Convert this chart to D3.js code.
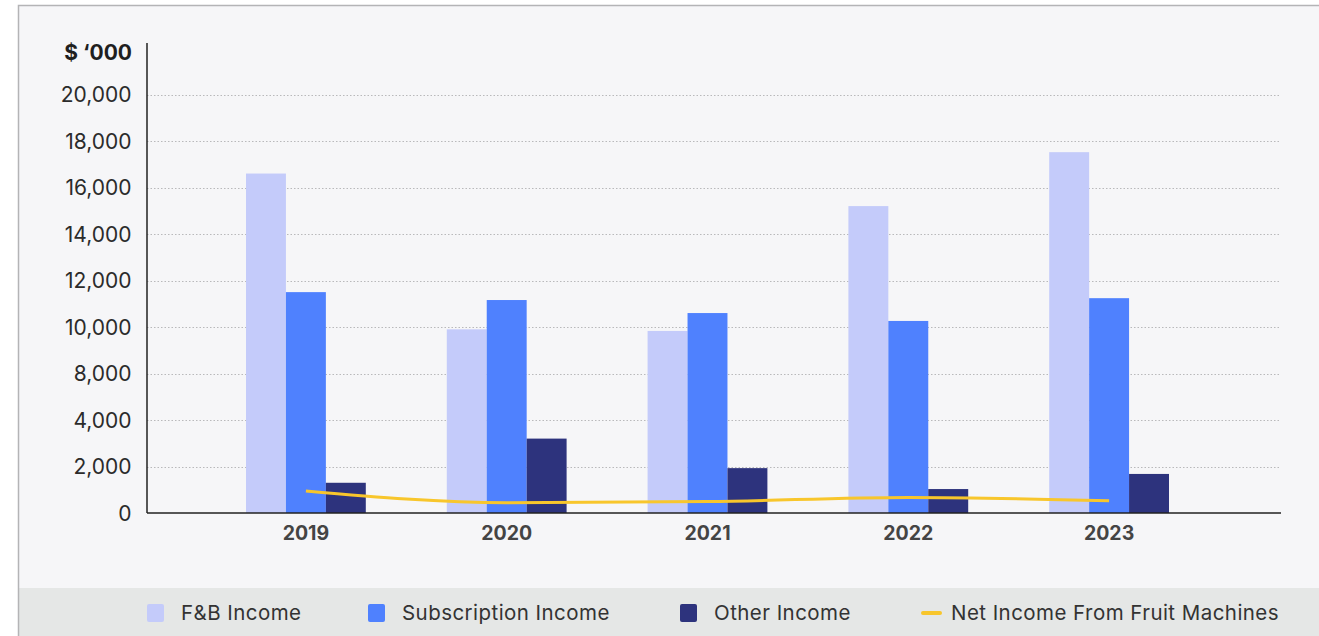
<!DOCTYPE html>
<html>
<head>
<meta charset="utf-8">
<script src="https://cdn.jsdelivr.net/npm/d3@7"></script>
<style>
  html, body { margin: 0; padding: 0; background: #fff; }
  svg { display: block; font-family: Inter, 'Noto Sans', sans-serif; }
</style>
</head>
<body>
<svg id="chart" width="1319" height="636"></svg>
<script>
// data
const years = ['2019', '2020', '2021', '2022', '2023']
const series = ['F&B Income', 'Subscription Income', 'Other Income']
const fbIncome = [16600, 9900, 9830, 15200, 17520]
const subscriptionIncome = [11500, 11160, 10600, 10260, 11240]
const otherIncome = [1300, 3200, 1930, 1030, 1680]
const fruitMachines = [950, 440, 490, 670, 530]
const tickValues = [0, 2000, 4000, 8000, 10000, 12000, 14000, 16000, 18000, 20000]
const lineName = 'Net Income From Fruit Machines'

const colors = ['#c4cbfa', '#4f81fe', '#2d337d']
const lineColor = '#f8c62c'

const svg = d3.select('#chart')
const W = 1319
const H = 636

// panel
svg.append('rect').attr('x', 18).attr('y', 5).attr('width', W - 18).attr('height', H - 5)
  .attr('fill', '#f6f6f8')
svg.append('rect').attr('x', 18).attr('y', 588).attr('width', W - 18).attr('height', H - 588)
  .attr('fill', '#e5e7e6')
svg.append('path').attr('d', `M18.5,${H}V5.5H${W}`)
  .attr('fill', 'none').attr('stroke', '#b4b4b6').attr('stroke-width', 1.5)

const left = 147
const right = 1281
const y0 = 513
const yTop = 94.5

// y axis: labels as shown, evenly spaced
const yScale = d3.scaleLinear()
  .domain(tickValues)
  .range(tickValues.map((d, i) => y0 - i * (y0 - yTop) / (tickValues.length - 1)))

const xScale = d3.scaleBand().domain(years).range([205.5, 1209.5]).paddingInner(0)
const inner = d3.scaleBand().domain(series).range([40.5, xScale.bandwidth() - 40.5])

// grid
svg.append('g').selectAll('line')
  .data(tickValues.filter(d => d > 0))
  .join('line')
  .attr('x1', left).attr('x2', right)
  .attr('y1', d => Math.round(yScale(d)) + 0.5).attr('y2', d => Math.round(yScale(d)) + 0.5)
  .attr('stroke', '#b9b9bb').attr('stroke-width', 1).attr('stroke-dasharray', '1.5,2')

// tick labels
svg.append('g').selectAll('text')
  .data(tickValues)
  .join('text')
  .attr('x', 131.5).attr('y', d => yScale(d))
  .attr('dy', '0.36em')
  .attr('text-anchor', 'end')
  .attr('font-size', 21)
  .attr('fill', '#2b2b2b')
  .text(d => d3.format(',')(d))

svg.append('text')
  .attr('x', 132).attr('y', 60)
  .attr('text-anchor', 'end')
  .attr('font-size', 21).attr('font-weight', 700)
  .attr('fill', '#1f1f1f')
  .text('$ \u2018000')

// bars
const values = [fbIncome, subscriptionIncome, otherIncome]
const g = svg.append('g')
years.forEach((yr, i) => {
  series.forEach((s, j) => {
    const v = values[j][i]
    g.append('rect')
      .attr('x', xScale(yr) + inner(s))
      .attr('y', yScale(v))
      .attr('width', inner.bandwidth())
      .attr('height', y0 - yScale(v))
      .attr('fill', colors[j])
  })
})

// line
const line = d3.line()
  .x((d, i) => xScale(years[i]) + xScale.bandwidth() / 2)
  .y(d => yScale(d))
  .curve(d3.curveMonotoneX)
svg.append('path')
  .attr('d', line(fruitMachines))
  .attr('fill', 'none')
  .attr('stroke', lineColor)
  .attr('stroke-width', 3)

// axes lines
svg.append('line').attr('x1', left).attr('x2', left).attr('y1', 43).attr('y2', y0)
  .attr('stroke', '#222').attr('stroke-width', 1.5)
svg.append('line').attr('x1', left).attr('x2', right).attr('y1', y0).attr('y2', y0)
  .attr('stroke', '#222').attr('stroke-width', 1.5)

// x labels
svg.append('g').selectAll('text')
  .data(years)
  .join('text')
  .attr('x', d => xScale(d) + xScale.bandwidth() / 2)
  .attr('y', 540)
  .attr('text-anchor', 'middle')
  .attr('font-size', 19.5).attr('font-weight', 700)
  .attr('fill', '#444')
  .text(d => d)

// legend
const legendItems = [
  { name: series[0], color: colors[0], x: 147, type: 'rect' },
  { name: series[1], color: colors[1], x: 368, type: 'rect' },
  { name: series[2], color: colors[2], x: 680, type: 'rect' },
  { name: lineName, color: lineColor, x: 921, type: 'line' }
]
const lg = svg.append('g').selectAll('g')
  .data(legendItems)
  .join('g')
  .attr('transform', d => `translate(${d.x},613)`)
lg.filter(d => d.type === 'rect').append('rect')
  .attr('x', 0).attr('y', -9).attr('width', 17).attr('height', 18).attr('rx', 2)
  .attr('fill', d => d.color)
lg.filter(d => d.type === 'line').append('rect')
  .attr('x', 0).attr('y', -2).attr('width', 21).attr('height', 4).attr('rx', 2)
  .attr('fill', d => d.color)
lg.append('text')
  .attr('x', d => d.type === 'line' ? 30 : 34)
  .attr('dy', '0.36em')
  .attr('font-size', 20.5)
  .attr('letter-spacing', 0.45)
  .attr('fill', '#333')
  .text(d => d.name)
</script>
</body>
</html>
